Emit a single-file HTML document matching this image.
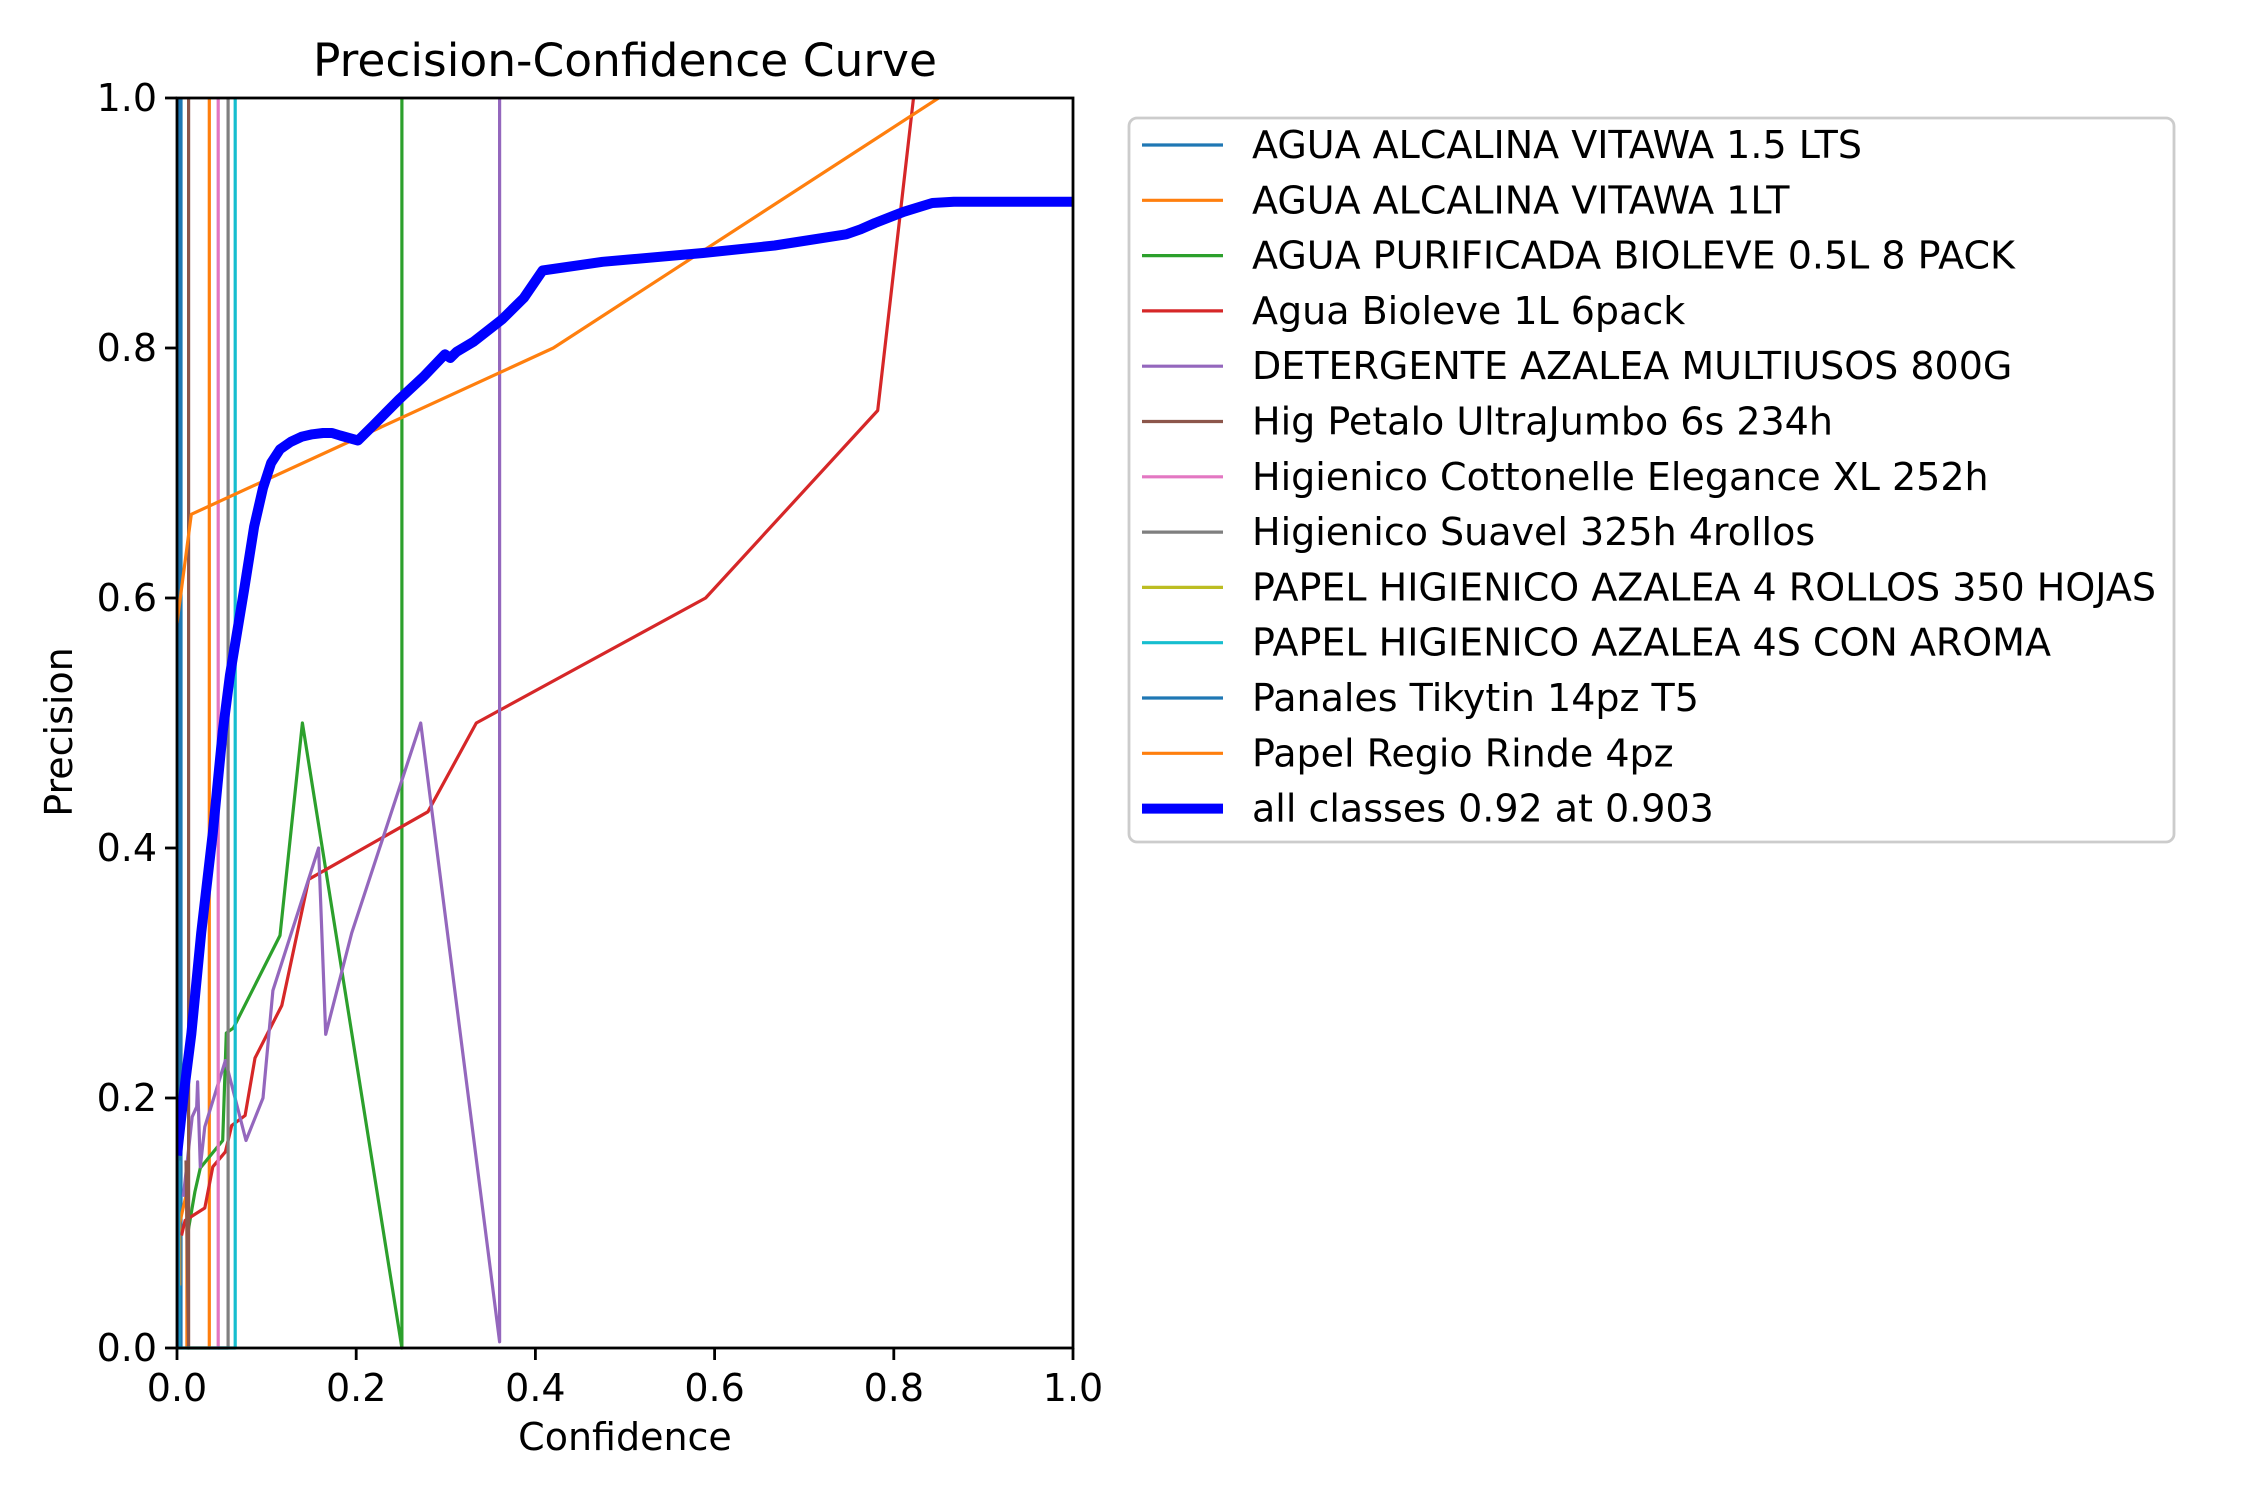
<!DOCTYPE html>
<html><head><meta charset="utf-8"><style>
html,body{margin:0;padding:0;background:#fff}
svg{display:block;font-family:"DejaVu Sans","Liberation Sans",sans-serif}
</style></head><body>
<svg id="chart" width="2250" height="1500" viewBox="0 0 2250 1500" xmlns="http://www.w3.org/2000/svg">
<rect width="2250" height="1500" fill="#fff"/>
<text x="625" y="76" font-size="45.5" text-anchor="middle">Precision-Confidence Curve</text>
<text x="625" y="1450" font-size="38" text-anchor="middle">Confidence</text>
<text x="72" y="732" font-size="38" text-anchor="middle" transform="rotate(-90 72 732)">Precision</text>
<g id="plot"></g>
<g id="axes"></g>
<g id="legend"></g>
</svg>
<script>
const seriesNames=["AGUA ALCALINA VITAWA 1.5 LTS","AGUA ALCALINA VITAWA 1LT","AGUA PURIFICADA BIOLEVE 0.5L 8 PACK","Agua Bioleve 1L 6pack","DETERGENTE AZALEA MULTIUSOS 800G","Hig Petalo UltraJumbo 6s 234h","Higienico Cottonelle Elegance XL 252h","Higienico Suavel 325h 4rollos","PAPEL HIGIENICO AZALEA 4 ROLLOS 350 HOJAS","PAPEL HIGIENICO AZALEA 4S CON AROMA","Panales Tikytin 14pz T5","Papel Regio Rinde 4pz","all classes 0.92 at 0.903"];
const seriesColors=["#1f77b4","#ff7f0e","#2ca02c","#d62728","#9467bd","#8c564b","#e377c2","#7f7f7f","#bcbd22","#17becf","#1f77b4","#ff7f0e","#0000ff"];
const xTicks=[0,0.2,0.4,0.6,0.8,1.0];
const yTicks=[0,0.2,0.4,0.6,0.8,1.0];
const s0x=[0.0045,0.0045], s0y=[0,1];
const s1x=[0.003,0.003,0.011,0.011,0.036,0.036], s1y=[0.05,0.1,0.125,0,0,1];
const s2x=[0.012,0.02,0.026,0.051,0.055,0.063,0.115,0.14,0.251,0.251], s2y=[0.092,0.125,0.144,0.166,0.252,0.256,0.33,0.5,0,1];
const s3x=[0.005,0.009,0.031,0.04,0.054,0.061,0.076,0.087,0.117,0.147,0.28,0.334,0.59,0.782,0.822], s3y=[0.09,0.102,0.112,0.145,0.157,0.178,0.186,0.232,0.274,0.375,0.429,0.5,0.6,0.75,1.0];
const s4x=[0.007,0.017,0.022,0.023,0.026,0.031,0.054,0.077,0.096,0.107,0.158,0.166,0.195,0.272,0.36,0.36], s4y=[0.121,0.185,0.193,0.213,0.145,0.177,0.23,0.166,0.2,0.286,0.4,0.251,0.332,0.5,0.005,1];
const s5x=[0.01,0.013,0.013], s5y=[0.15,0,1];
const s6x=[0.036,0.046,0.046], s6y=[0,0,1];
const s7x=[0.046,0.057,0.057], s7y=[0,0,1];
const s8x=[0.002,0.002], s8y=[0,0];
const s9x=[0.002,0.002,0.057,0.065,0.065], s9y=[0.15,0,0,0,1];
const s10x=[0.001,0.001], s10y=[0,1];
const s11x=[0,0.016,0.42,0.85], s11y=[0.58,0.667,0.8,1.0];
const s12x=[0,0.008,0.016,0.027,0.04,0.051,0.059,0.075,0.086,0.096,0.105,0.115,0.127,0.139,0.151,0.163,0.173,0.182,0.192,0.202,0.219,0.248,0.275,0.299,0.305,0.312,0.331,0.363,0.387,0.408,0.475,0.587,0.667,0.747,0.763,0.779,0.811,0.843,0.867,1.0];
const s12y=[0.154,0.206,0.251,0.332,0.412,0.493,0.538,0.607,0.657,0.688,0.708,0.719,0.725,0.729,0.731,0.732,0.732,0.730,0.728,0.726,0.738,0.759,0.777,0.795,0.792,0.797,0.805,0.823,0.840,0.862,0.869,0.876,0.882,0.891,0.895,0.900,0.909,0.916,0.917,0.917];
const allX=[s0x,s1x,s2x,s3x,s4x,s5x,s6x,s7x,s8x,s9x,s10x,s11x,s12x];
const allY=[s0y,s1y,s2y,s3y,s4y,s5y,s6y,s7y,s8y,s9y,s10y,s11y,s12y];

const L=177,R=1073,T=98,B=1348;
function X(v){return L+(R-L)*v;}
function Y(v){return B-(B-T)*v;}
const NS="http://www.w3.org/2000/svg";
const plot=document.getElementById('plot'),axes=document.getElementById('axes'),leg=document.getElementById('legend');
function mk(tag,attrs,parent){const e=document.createElementNS(NS,tag);for(const k in attrs)e.setAttribute(k,attrs[k]);parent.appendChild(e);return e;}
const clip=mk('clipPath',{id:'cp'},plot);mk('rect',{x:L,y:T-6,width:R-L,height:B-T+12},clip);
plot.setAttribute('clip-path','url(#cp)');
for(let i=0;i<allX.length;i++){
  const pts=allX[i].map((v,j)=>X(v).toFixed(1)+','+Y(allY[i][j]).toFixed(1)).join(' ');
  const pl=mk('polyline',{points:pts,fill:'none',stroke:seriesColors[i],'stroke-width':i==12?10:3.2,'stroke-linejoin':'round'},plot);
  
  
}
const frame=mk('rect',{x:L,y:T,width:R-L,height:B-T,fill:'none',stroke:'#000','stroke-width':2.8},axes);


xTicks.forEach(v=>{
  mk('line',{x1:X(v),x2:X(v),y1:B,y2:B+12,stroke:'#000','stroke-width':2.8},axes);
  const t=mk('text',{x:X(v),y:1401,'font-size':38,'text-anchor':'middle'},axes);
  t.textContent=v.toFixed(1);
  
  
});
yTicks.forEach(v=>{
  mk('line',{x1:L-12,x2:L,y1:Y(v),y2:Y(v),stroke:'#000','stroke-width':2.8},axes);
  const t=mk('text',{x:L-20,y:Y(v)+13,'font-size':38,'text-anchor':'end'},axes);
  t.textContent=v.toFixed(1);
  
  
});
const box=mk('rect',{x:1129,y:118,width:1045,height:724,rx:8,fill:'#fff',stroke:'#cccccc','stroke-width':2.8},leg);


seriesNames.forEach((n,i)=>{
  const y=145+i*55.3;
  const g=mk('g',{},leg);
  
  
  mk('line',{x1:1142,x2:1223,y1:y,y2:y,stroke:seriesColors[i],'stroke-width':i==12?10:3.2},g);
  const t=mk('text',{x:1252,y:y+13,'font-size':38},g);
  t.textContent=n;
});
</script>
</body></html>
